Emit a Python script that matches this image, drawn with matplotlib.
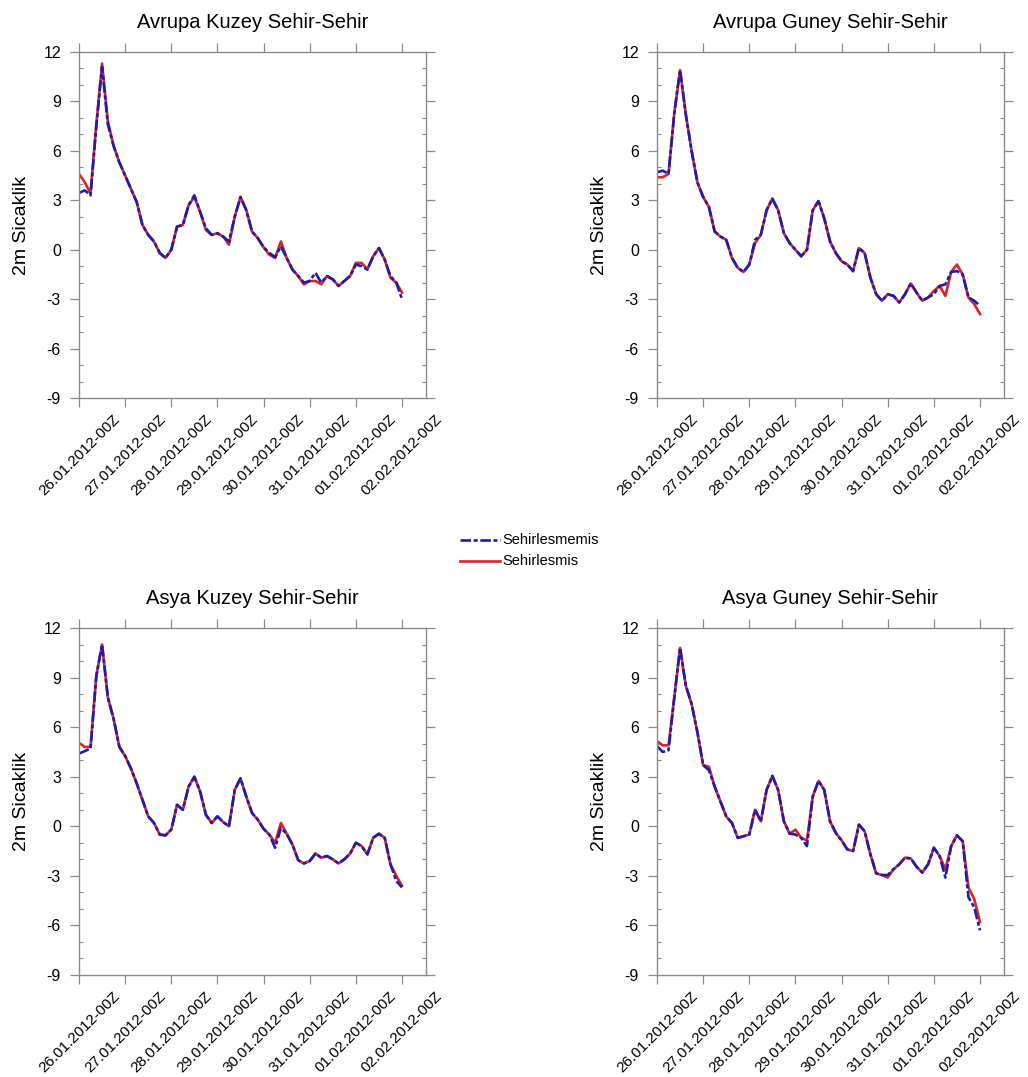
import numpy as np
import matplotlib
matplotlib.use("Agg")
import matplotlib.pyplot as plt
from matplotlib.ticker import MultipleLocator, FixedLocator
from matplotlib.lines import Line2D

plt.rcParams['font.family'] = ['Liberation Sans', 'DejaVu Sans']
plt.rcParams['axes.unicode_minus'] = False

# 3-hourly time axis (hours since 26.01.2012 00Z)
hours = np.arange(0, 169, 3)

tick_days = [0, 1, 2, 3, 4, 5, 6, 7]
tick_labels = ["26.01.2012-00Z", "27.01.2012-00Z", "28.01.2012-00Z",
               "29.01.2012-00Z", "30.01.2012-00Z", "31.01.2012-00Z",
               "01.02.2012-00Z", "02.02.2012-00Z"]

titles = ["Avrupa Kuzey Sehir-Sehir", "Avrupa Guney Sehir-Sehir",
          "Asya Kuzey Sehir-Sehir", "Asya Guney Sehir-Sehir"]

# 2 m temperature, urbanised run (Sehirlesmis)
avrupa_kuzey_sehirlesmis = [
    4.6, 4.1, 3.4, 7.6, 11.3, 7.8, 6.3, 5.3, 4.5, 3.7,
    2.9, 1.5, 0.9, 0.5, -0.2, -0.5, 0.0, 1.4, 1.5, 2.7,
    3.2, 2.3, 1.2, 0.9, 1.0, 0.8, 0.3, 2.0, 3.2, 2.4,
    1.1, 0.7, 0.15, -0.3, -0.5, 0.5, -0.5, -1.2, -1.6, -2.1,
    -1.9, -1.9, -2.1, -1.6, -1.8, -2.2, -1.9, -1.6, -0.8, -0.8,
    -1.2, -0.4, 0.1, -0.6, -1.7, -2.0, -2.6]
avrupa_guney_sehirlesmis = [
    4.4, 4.4, 4.6, 8.3, 10.9, 8.2, 6.0, 4.1, 3.2, 2.6,
    1.1, 0.8, 0.6, -0.5, -1.1, -1.35, -0.9, 0.4, 0.9, 2.4,
    3.1, 2.4, 1.0, 0.4, 0.0, -0.4, 0.0, 2.4, 2.95, 1.9,
    0.5, -0.2, -0.7, -0.9, -1.3, 0.1, -0.2, -1.7, -2.7, -3.1,
    -2.7, -2.8, -3.2, -2.7, -2.05, -2.6, -3.1, -2.9, -2.5, -2.2,
    -2.8, -1.35, -0.9, -1.5, -2.9, -3.3, -3.9]
asya_kuzey_sehirlesmis = [
    5.05, 4.8, 4.8, 9.1, 11.0, 7.8, 6.5, 4.8, 4.25, 3.5,
    2.6, 1.6, 0.6, 0.2, -0.5, -0.55, -0.2, 1.3, 1.0, 2.4,
    3.0, 2.1, 0.7, 0.2, 0.6, 0.25, 0.0, 2.2, 2.9, 1.8,
    0.8, 0.4, -0.15, -0.5, -1.0, 0.2, -0.45, -1.1, -2.05, -2.25,
    -2.1, -1.65, -1.9, -1.8, -2.0, -2.25, -2.0, -1.65, -1.0, -1.2,
    -1.7, -0.7, -0.45, -0.7, -2.3, -3.0, -3.6]
asya_guney_sehirlesmis = [
    5.15, 4.9, 4.9, 7.8, 10.8, 8.5, 7.4, 5.7, 3.7, 3.6,
    2.4, 1.5, 0.6, 0.2, -0.7, -0.6, -0.5, 1.0, 0.3, 2.2,
    3.05, 2.2, 0.3, -0.45, -0.2, -0.7, -0.85, 1.8, 2.75, 2.2,
    0.3, -0.4, -0.85, -1.4, -1.5, 0.1, -0.3, -1.7, -2.85, -2.95,
    -3.1, -2.6, -2.3, -1.9, -1.95, -2.45, -2.8, -2.3, -1.3, -1.8,
    -2.6, -1.2, -0.55, -0.9, -3.7, -4.4, -5.8]

# 2 m temperature, non-urbanised run (Sehirlesmemis)
avrupa_kuzey_sehirlesmemis = [
    3.45, 3.6, 3.3, 7.5, 11.1, 7.6, 6.3, 5.3, 4.5, 3.7,
    2.9, 1.5, 0.9, 0.5, -0.2, -0.5, 0.0, 1.4, 1.5, 2.7,
    3.3, 2.3, 1.3, 0.9, 1.0, 0.8, 0.5, 2.0, 3.2, 2.4,
    1.1, 0.7, 0.15, -0.2, -0.45, 0.2, -0.5, -1.2, -1.6, -2.0,
    -1.9, -1.4, -2.0, -1.6, -1.8, -2.2, -1.9, -1.6, -0.9, -1.0,
    -1.2, -0.4, 0.1, -0.6, -1.6, -2.0, -3.0]
avrupa_guney_sehirlesmemis = [
    4.7, 4.8, 4.6, 8.3, 10.9, 8.2, 6.0, 4.1, 3.2, 2.6,
    1.1, 0.8, 0.6, -0.5, -1.1, -1.35, -0.9, 0.6, 0.9, 2.4,
    3.1, 2.4, 1.0, 0.4, 0.0, -0.4, 0.0, 2.4, 2.95, 1.9,
    0.5, -0.2, -0.7, -0.9, -1.3, 0.1, -0.2, -1.7, -2.7, -3.1,
    -2.7, -2.8, -3.2, -2.7, -2.05, -2.6, -3.1, -2.9, -2.7, -2.2,
    -2.1, -1.35, -1.3, -1.5, -2.9, -3.1, -3.4]
asya_kuzey_sehirlesmemis = [
    4.4, 4.55, 4.7, 9.1, 11.0, 7.8, 6.5, 4.8, 4.25, 3.5,
    2.6, 1.6, 0.6, 0.2, -0.5, -0.55, -0.2, 1.3, 1.0, 2.4,
    3.0, 2.1, 0.7, 0.2, 0.6, 0.25, 0.0, 2.2, 2.9, 1.8,
    0.8, 0.4, -0.15, -0.5, -1.3, -0.1, -0.45, -1.1, -2.05, -2.25,
    -2.1, -1.65, -1.9, -1.8, -2.0, -2.25, -2.0, -1.65, -1.0, -1.2,
    -1.7, -0.7, -0.45, -0.7, -2.3, -3.3, -3.7]
asya_guney_sehirlesmemis = [
    4.85, 4.5, 4.6, 7.8, 10.8, 8.5, 7.4, 5.7, 3.7, 3.4,
    2.4, 1.5, 0.6, 0.2, -0.7, -0.6, -0.5, 1.0, 0.3, 2.2,
    3.05, 2.2, 0.3, -0.45, -0.5, -0.7, -1.2, 1.8, 2.75, 2.2,
    0.3, -0.4, -0.85, -1.4, -1.5, 0.1, -0.3, -1.7, -2.85, -2.95,
    -2.95, -2.6, -2.3, -1.9, -1.95, -2.45, -2.8, -2.3, -1.3, -1.8,
    -3.1, -1.2, -0.55, -0.9, -4.3, -4.9, -6.3]

urban = [avrupa_kuzey_sehirlesmis, avrupa_guney_sehirlesmis,
         asya_kuzey_sehirlesmis, asya_guney_sehirlesmis]
rural = [avrupa_kuzey_sehirlesmemis, avrupa_guney_sehirlesmemis,
         asya_kuzey_sehirlesmemis, asya_guney_sehirlesmemis]

W, H = 1028, 1077
fig = plt.figure(figsize=(W / 100, H / 100), dpi=100)

# panel boxes in pixels: left, top, right, bottom
boxes = [(79, 52, 426, 398), (657, 52, 1004, 398),
         (79, 628, 426, 975), (657, 628, 1004, 975)]

frame_gray = '#8a8a8a'
red = '#dd2323'
blue = '#1c1cae'
blue_dashes = (4.0, 1.0, 1.5, 1.0)

for box, title, red_vals, blue_vals in zip(boxes, titles, urban, rural):
    l, t, r, b = box
    ax = fig.add_axes([l / W, 1 - b / H, (r - l) / W, (b - t) / H])
    days = hours / 24.0
    ax.plot(days, red_vals, color=red, lw=1.9, solid_joinstyle='round')
    ax.plot(days, blue_vals, color=blue, lw=1.9, dashes=blue_dashes,
            dash_joinstyle='round')

    ax.set_xlim(0, 7.52)
    ax.set_ylim(-9, 12)
    ax.xaxis.set_major_locator(FixedLocator(tick_days))
    ax.set_xticklabels(tick_labels, rotation=45)
    ax.yaxis.set_major_locator(MultipleLocator(3))
    ax.yaxis.set_minor_locator(MultipleLocator(1))

    for sp in ax.spines.values():
        sp.set_color(frame_gray)
        sp.set_linewidth(1.0)
    ax.tick_params(which='major', direction='out', length=6.5, width=0.9,
                   color=frame_gray, top=True, right=True,
                   labeltop=False, labelright=False)
    ax.tick_params(axis='x', which='major', pad=3.5, labelsize=11)
    ax.tick_params(axis='y', which='major', pad=6.5, labelsize=11.5)
    ax.tick_params(axis='y', which='minor', direction='in', length=3,
                   width=0.8, color=frame_gray, left=True, right=True)
    ax.tick_params(axis='x', which='minor', bottom=False, top=False)

    ax.text(0.5, 1 + 24 / (b - t), title, transform=ax.transAxes,
            ha='center', va='baseline', fontsize=14.5)
    fig.text((l - 53) / W, 1 - ((t + b) / 2) / H, "2m Sicaklik",
             rotation=90, rotation_mode='anchor', ha='center',
             va='baseline', fontsize=14)

# shared legend between the two rows
legend_items = [("Sehirlesmemis", blue, blue_dashes, 540),
                ("Sehirlesmis", red, None, 561)]
for label, col, dash, ypix in legend_items:
    yf = 1 - ypix / H
    ln = Line2D([460 / W, 500 / W], [yf, yf], transform=fig.transFigure,
                color=col, lw=1.9)
    if dash is not None:
        ln.set_dashes(dash)
    fig.add_artist(ln)
    fig.text(502 / W, yf, label, ha='left', va='center', fontsize=10.5)

fig.savefig("out.png", dpi=100)
